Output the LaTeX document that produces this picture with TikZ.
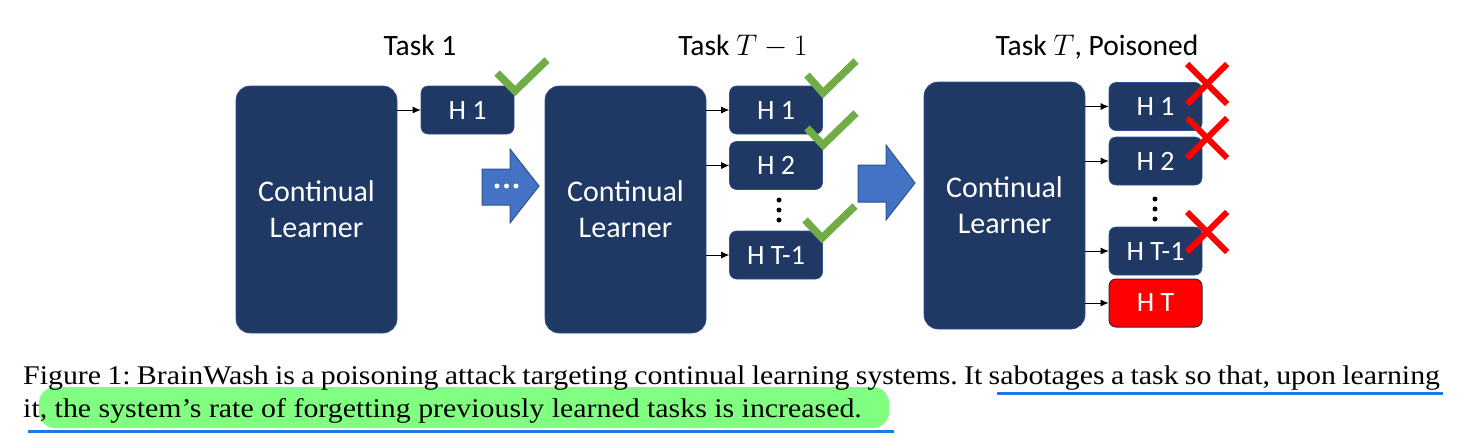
\documentclass[tikz,border=0pt]{standalone}
\usepackage{fontspec}
\setmainfont{Liberation Serif}
\newfontfamily\carl{Carlito}
\usetikzlibrary{arrows.meta}
\definecolor{navy}{RGB}{32,56,100}
\definecolor{navyedge}{RGB}{47,82,143}
\definecolor{blockblue}{RGB}{68,114,196}
\definecolor{checkgreen}{RGB}{112,173,71}
\definecolor{hlgreen}{RGB}{128,255,128}
\definecolor{ulblue}{RGB}{30,120,230}
\definecolor{htedge}{RGB}{70,30,60}
\tikzset{
  learner/.style={draw=navyedge, line width=0.6pt, fill=navy, rounded corners=14pt,
    minimum width=161pt, minimum height=247pt, inner sep=0pt, align=center,
    text=white, font=\carl\fontsize{30}{36}\selectfont},
  headbox/.style={draw=navyedge, line width=0.6pt, fill=navy, rounded corners=7pt,
    minimum width=93pt, minimum height=48pt, inner sep=0pt,
    text=white, font=\carl\fontsize{28}{32}\selectfont},
  poisonbox/.style={headbox, fill=red, draw=htedge, line width=1pt},
  feed/.style={-{Latex[length=8pt,width=7pt]}, line width=0.8pt, black},
  tasklabel/.style={anchor=base, inner sep=0pt, font=\carl\fontsize{29.5}{34}\selectfont},
  blockarrow/.style={fill=blockblue, draw=navyedge, line width=1pt, line join=miter},
  tick/.style={draw=checkgreen, line width=7.5pt, line join=miter},
  cross/.style={draw=red, line width=6pt},
  vdot/.style={circle, fill=black, inner sep=0pt, minimum size=5pt},
  wdot/.style={circle, fill=white, inner sep=0pt, minimum size=5pt},
  capline/.style={anchor=base west, inner sep=0pt, font=\fontsize{27}{32}\selectfont\frenchspacing},
  uline/.style={draw=ulblue, line width=3pt},
}
\newcommand{\mathbig}[1]{\scalebox{1.2}{$#1$}}
\begin{document}
\begin{tikzpicture}[x=1pt,y=-1pt]
\useasboundingbox (0,0) rectangle (1473,437);
% task labels
\node[tasklabel] (t1) at (420,55) {Task 1};
\node[tasklabel] (t2) at (743,55) {Task \mathbig{T-1}};
\node[tasklabel] (t3) at (1097,55) {Task \mathbig{T}, Poisoned};
% stage 1
\node[learner] (L1) at (316.5,209.5) {Continual\\Learner};
\node[headbox] (a1) at (467.5,110) {H 1};
\draw[feed] (L1.east |- a1.west) -- (a1.west);
% block arrow 1
\draw[blockarrow] (482,169) -- (510,169) -- (510,149) -- (539,186) -- (510,223) -- (510,205) -- (482,205) -- cycle;
\node[wdot] (d1) at (497,186) {};
\node[wdot] (d2) at (506.5,186) {};
\node[wdot] (d3) at (516,186) {};
% stage 2
\node[learner] (L2) at (625.5,209.5) {Continual\\Learner};
\node[headbox] (b1) at (776,110) {H 1};
\node[headbox] (b2) at (776,165.5) {H 2};
\node[headbox] (b3) at (776,255) {H T-1};
\draw[feed] (L2.east |- b1.west) -- (b1.west);
\draw[feed] (L2.east |- b2.west) -- (b2.west);
\draw[feed] (L2.east |- b3.west) -- (b3.west);
\node[vdot] (v1) at (779,200) {};
\node[vdot] (v2) at (779,210) {};
\node[vdot] (v3) at (779,220) {};
% block arrow 2
\draw[blockarrow] (858,165) -- (886,165) -- (886,145) -- (915,183) -- (886,220) -- (886,202) -- (858,202) -- cycle;
% stage 3
\node[learner] (L3) at (1004.5,205.5) {Continual\\Learner};
\node[headbox] (c1) at (1155.5,106.5) {H 1};
\node[headbox] (c2) at (1155.5,161) {H 2};
\node[headbox] (c3) at (1155.5,251) {H T-1};
\node[poisonbox] (c4) at (1155.5,303) {H T};
\draw[feed] (L3.east |- c1.west) -- (c1.west);
\draw[feed] (L3.east |- c2.west) -- (c2.west);
\draw[feed] (L3.east |- c3.west) -- (c3.west);
\draw[feed] (L3.east |- c4.west) -- (c4.west);
\node[vdot] (w1) at (1155,199) {};
\node[vdot] (w2) at (1155,209) {};
\node[vdot] (w3) at (1155,219) {};
% checks
\draw[tick] (497,73) -- (515,91) -- (547,60);
\draw[tick] (807,75) -- (823,93) -- (856,61);
\draw[tick] (807,128) -- (823,145) -- (856,113);
\draw[tick] (805,220) -- (822,238) -- (855,206);
% crosses
\foreach \cy in {84,138,232}{
  \draw[cross] (1187,\cy-20) -- (1227,\cy+20);
  \draw[cross] (1187,\cy+20) -- (1227,\cy-20);
}
% caption
\fill[hlgreen, rounded corners=16pt] (39,387) rectangle (889,428);
\draw[uline] (997,393) -- (1443,393);
\draw[uline] (28,431) -- (894,431);
\node[capline] (cap1) at (23,384) {\scalebox{1.106}[1]{\hbox to 1281pt{Figure 1: BrainWash is a poisoning attack targeting continual learning systems. It sabotages a task so that, upon learning}}};
\node[capline] (cap2) at (23,417) {\scalebox{1.106}[1]{it, the system’s rate of forgetting previously learned tasks is increased.}};
\end{tikzpicture}
\end{document}
